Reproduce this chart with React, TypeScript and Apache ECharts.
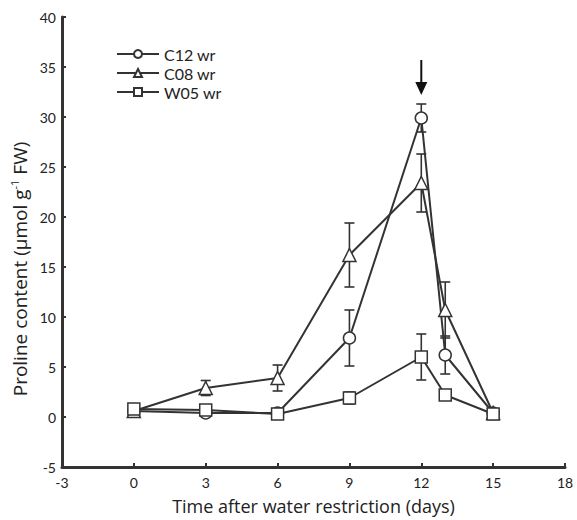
import React, { useEffect, useRef } from "react";
import * as echarts from "echarts";

const days = [0, 3, 6, 9, 12, 13, 15];
const c12 = [0.6, 0.4, 0.4, 7.9, 29.9, 6.2, 0.4];
const c12Err = [0.2, 0.2, 0.2, 2.8, 1.4, 1.9, 0.2];
const c08 = [0.6, 2.9, 3.9, 16.2, 23.4, 10.7, 0.4];
const c08Err = [0.2, 0.75, 1.3, 3.2, 2.9, 2.8, 0.2];
const w05 = [0.8, 0.7, 0.3, 1.9, 6.0, 2.2, 0.3];
const w05Err = [0.3, 0.3, 0.2, 0.6, 2.3, 0.3, 0.2];
const seriesNames = ["C12 wr", "C08 wr", "W05 wr"];
const arrow = [[12, 35.7, 32.2]];
const yTitle = "Proline content (μmol g{sup|-1} FW)";
const xTitle = "Time after water restriction (days)";

const INK = "#333";
const FONT = "Lato";
const TITLE_FONT = "Open Sans";

export default function App() {
  const ref = useRef<HTMLDivElement>(null);
  useEffect(() => {
    document.body.style.margin = "0";
    const chart = echarts.init(ref.current!, null, { renderer: "svg" });
    const errData: number[][] = [];
    [
      [c12, c12Err],
      [c08, c08Err],
      [w05, w05Err],
    ].forEach(([vals, errs]) => {
      days.forEach((d, i) => {
        errData.push([d, vals[i] - errs[i], vals[i] + errs[i]]);
      });
    });
    const mk = (name: string, vals: number[], symbol: string, size: number) => ({
      name,
      type: "line",
      data: days.map((d, i) => [d, vals[i]]),
      symbol,
      symbolSize: size,
      showAllSymbol: true,
      z: 3,
      color: INK,
      lineStyle: { color: INK, width: 2 },
      itemStyle: { color: "#fff", borderColor: INK, borderWidth: 1.5 },
      emphasis: { disabled: true },
    });
    chart.setOption({
      animation: false,
      grid: { left: 62, right: 12, top: 17, bottom: 53 },
      graphic: [
        {
          type: "text",
          x: 20,
          y: 269,
          rotation: Math.PI / 2,
          style: {
            text: yTitle,
            fontFamily: TITLE_FONT,
            fontSize: 19,
            fill: "#222",
            align: "center",
            verticalAlign: "middle",
            lineHeight: 23,
            rich: {
              sup: { fontFamily: TITLE_FONT, fontSize: 11, fill: "#222", verticalAlign: "top", lineHeight: 23 },
            },
          },
        },
      ],
      legend: {
        data: seriesNames,
        orient: "vertical",
        left: 111,
        top: 40,
        itemWidth: 42,
        itemHeight: 10,
        itemGap: 1,
        textStyle: { fontFamily: FONT, fontSize: 16, color: "#222", lineHeight: 18 },
        selectedMode: false,
      },
      xAxis: {
        type: "value",
        min: -3,
        max: 18,
        interval: 3,
        name: xTitle,
        nameLocation: "middle",
        nameGap: 30,
        nameTextStyle: { fontFamily: TITLE_FONT, fontSize: 18, color: "#222" },
        axisLine: { onZero: false, lineStyle: { color: INK, width: 3 } },
        axisTick: { inside: true, length: 4, lineStyle: { color: INK, width: 2 } },
        axisLabel: { fontFamily: FONT, fontSize: 14, color: "#222", margin: 8 },
        splitLine: { show: false },
      },
      yAxis: {
        type: "value",
        min: -5,
        max: 40,
        interval: 5,
        axisLine: { onZero: false, lineStyle: { color: INK, width: 3 } },
        axisTick: { inside: true, length: 4, lineStyle: { color: INK, width: 2 } },
        axisLabel: { fontFamily: FONT, fontSize: 14, color: "#222", margin: 6 },
        splitLine: { show: false },
      },
      series: [
        {
          type: "custom",
          name: "err",
          z: 2,
          data: errData,
          encode: { x: 0, y: [1, 2] },
          renderItem: (params: any, api: any) => {
            const x = api.value(0);
            const lo = api.coord([x, api.value(1)]);
            const hi = api.coord([x, api.value(2)]);
            const w = 5;
            const style = { stroke: INK, lineWidth: 1.6 };
            return {
              type: "group",
              children: [
                { type: "line", shape: { x1: lo[0], y1: lo[1], x2: hi[0], y2: hi[1] }, style },
                { type: "line", shape: { x1: lo[0] - w, y1: lo[1], x2: lo[0] + w, y2: lo[1] }, style },
                { type: "line", shape: { x1: hi[0] - w, y1: hi[1], x2: hi[0] + w, y2: hi[1] }, style },
              ],
            };
          },
        },
        mk(seriesNames[0], c12, "circle", 12),
        mk(seriesNames[1], c08, "triangle", 13),
        mk(seriesNames[2], w05, "rect", 12),
        {
          type: "custom",
          name: "arrow",
          z: 4,
          data: arrow,
          encode: { x: 0, y: [1, 2] },
          renderItem: (params: any, api: any) => {
            const x = api.value(0);
            const top = api.coord([x, api.value(1)]);
            const tip = api.coord([x, api.value(2)]);
            const headLen = 13;
            const headW = 6;
            return {
              type: "group",
              children: [
                {
                  type: "line",
                  shape: { x1: top[0], y1: top[1], x2: tip[0], y2: tip[1] - headLen + 1 },
                  style: { stroke: "#111", lineWidth: 2 },
                },
                {
                  type: "polygon",
                  shape: {
                    points: [
                      [tip[0] - headW, tip[1] - headLen],
                      [tip[0] + headW, tip[1] - headLen],
                      [tip[0], tip[1]],
                    ],
                  },
                  style: { fill: "#111" },
                },
              ],
            };
          },
        },
      ],
    });
    return () => chart.dispose();
  }, []);
  return <div ref={ref} style={{ width: 577, height: 520 }} />;
}
